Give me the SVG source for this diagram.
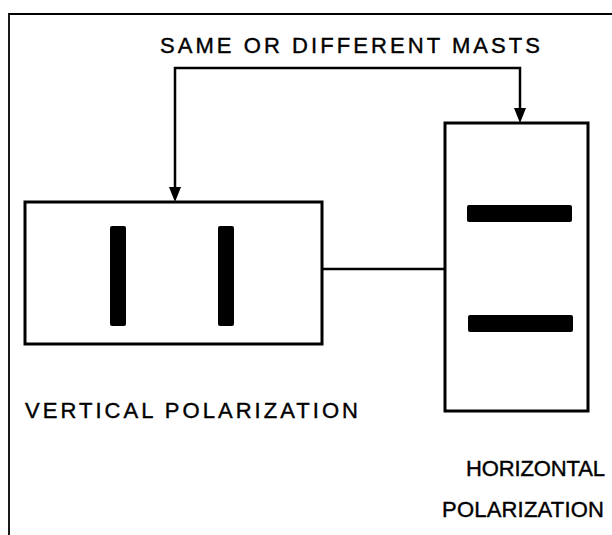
<svg xmlns="http://www.w3.org/2000/svg" width="612" height="535" viewBox="0 0 612 535">
<style>
.box{fill:none;stroke:#000;stroke-width:3}
.bar{fill:#000}
.ln{fill:none;stroke:#000;stroke-width:2.5}
.fr{fill:none;stroke:#000;stroke-width:1.8}
.ah{fill:#000}
text{font-family:"Liberation Sans",Arial,sans-serif;font-size:22px;fill:#000;stroke:#000;stroke-width:0.4}
</style>
<rect width="612" height="535" fill="#fff"/>
<g id="frame">
<path class="fr" d="M9,535 L9,14 L612,14"/>
</g>
<g id="title"><text x="160" y="53" textLength="380" lengthAdjust="spacing">SAME OR DIFFERENT MASTS</text></g>
<g id="vertical">
<rect class="box" x="25" y="202" width="297" height="142"/>
<rect class="bar" x="110" y="226" width="16" height="100" rx="2"/>
<rect class="bar" x="218" y="226" width="16" height="100" rx="2"/>
<text x="25" y="418" textLength="333" lengthAdjust="spacing">VERTICAL POLARIZATION</text>
</g>
<g id="horizontal">
<rect class="box" x="445" y="123" width="143" height="288"/>
<rect class="bar" x="467" y="205" width="105" height="17" rx="2"/>
<rect class="bar" x="468" y="315" width="105" height="17" rx="2"/>
<text x="466" y="476" textLength="139" lengthAdjust="spacing">HORIZONTAL</text>
<text x="442" y="517" textLength="162" lengthAdjust="spacing">POLARIZATION</text>
</g>
<g id="connectors">
<path class="ln" d="M175,190 L175,68 L520,68 L520,112"/>
<polygon class="ah" points="169,187 181,187 175,202"/>
<polygon class="ah" points="514,108 526,108 520,123"/>
<path class="ln" d="M322,269 L445,269"/>
</g>
</svg>
